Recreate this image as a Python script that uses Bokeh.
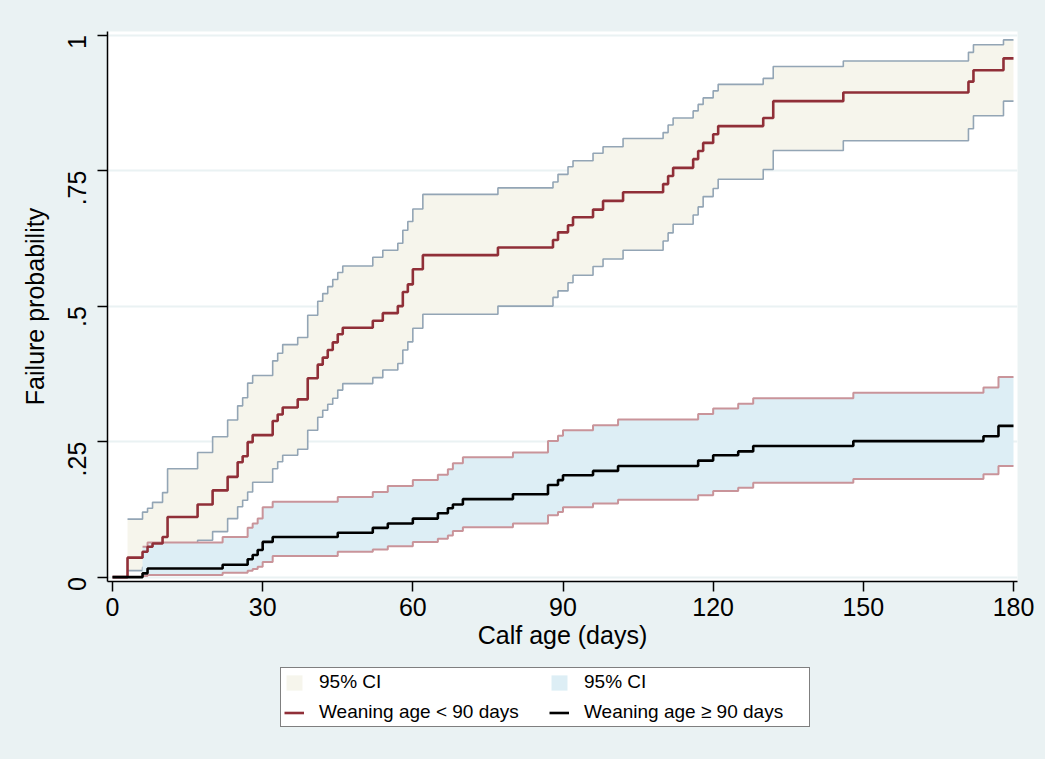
import math
from bokeh.plotting import figure
from bokeh.layouts import column
from bokeh.models import Range1d, FixedTicker, Legend, LegendItem
from bokeh.embed import file_html
from bokeh.resources import INLINE

# ---------------- data ----------------
# Group: weaning age < 90 days
days_lt90 = [0, 3, 6, 7, 8, 10, 11, 17, 20, 23, 25, 26, 27, 28, 32, 33, 34, 37, 39, 41,
             42, 43, 44, 45, 46, 52, 54, 57, 58, 59, 60, 62, 77, 88, 89, 91, 92, 96, 98,
             102, 110, 111, 112, 116, 117, 118, 120, 121, 130, 132, 146, 171, 172, 178, 180]
fail_lt90 = [0, .036, .047, .056, .062, .074, .111, .134, .160, .185, .212, .223, .249, .262,
             .288, .300, .313, .328, .367, .392, .405, .419, .433, .448, .460, .473, .487,
             .500, .526, .540, .568, .594, .608, .622, .636, .649, .664, .678, .694, .710,
             .725, .740, .755, .771, .786, .801, .817, .832, .847, .878, .894, .914, .935,
             .957, .957]
# CI defined from the first failure (day 3) on
ci_days_lt90 = days_lt90[1:]
hi_lt90 = [.107, .120, .127, .138, .156, .200, .230, .259, .290, .316, .331, .358, .372,
           .399, .413, .429, .442, .483, .509, .523, .536, .549, .562, .574, .590, .603,
           .616, .640, .656, .679, .706, .718, .729, .743, .757, .768, .782, .794, .809,
           .820, .834, .847, .860, .872, .884, .897, .909, .920, .942, .952, .968, .982,
           .991, .991]
lo_lt90 = [.012, .018, .024, .030, .038, .052, .068, .084, .108, .130, .142, .157, .175,
           .200, .213, .225, .236, .271, .295, .308, .319, .330, .345, .357, .368, .382,
           .394, .419, .434, .459, .485, .500, .516, .528, .543, .557, .573, .587, .603,
           .620, .635, .651, .668, .683, .702, .717, .734, .752, .787, .805, .827, .851,
           .878, .878]

# Group: weaning age >= 90 days
days_ge90 = [0, 6, 7, 22, 27, 28, 29, 30, 32, 45, 52, 55, 60, 65, 67, 68, 70, 80, 87, 89,
             90, 96, 101, 117, 120, 125, 128, 148, 174, 177, 180]
fail_ge90 = [0, .007, .016, .023, .033, .041, .050, .065, .074, .082, .091, .099, .108,
             .118, .127, .134, .144, .153, .170, .179, .188, .196, .205, .215, .225, .232,
             .242, .251, .260, .279, .279]
ci_days_ge90 = days_ge90[1:]
hi_ge90 = [.056, .064, .074, .091, .099, .108, .129, .139, .148, .157, .168, .179, .189,
           .199, .210, .221, .230, .251, .261, .271, .280, .291, .301, .311, .320, .330,
           .340, .350, .369, .369]
lo_ge90 = [.002, .004, .008, .012, .015, .019, .028, .039, .047, .051, .057, .065, .071,
           .077, .085, .092, .099, .114, .120, .129, .136, .143, .151, .159, .165, .174,
           .181, .190, .205, .205]

x_ticks = [0, 30, 60, 90, 120, 150, 180]
y_ticks = [0, 0.25, 0.5, 0.75, 1]
y_tick_labels = {0: "0", 0.25: ".25", 0.5: ".5", 0.75: ".75", 1: "1"}
legend_labels = ["95% CI", "Weaning age < 90 days", "95% CI", "Weaning age \u2265 90 days"]

# ---------------- styling ----------------
BG = "#EAF2F3"
FONT = "Liberation Sans"
BEIGE = "#F6F5EC"
LIGHTBLUE = "#DDEEF5"
GRAYBLUE = "#93A5B5"
PINK = "#C9949A"
CRANBERRY = "#902F38"


def draw_series(fig):
    """Draw CI areas, CI bounds and failure curves; return legend renderers."""
    a1 = fig.varea_step(x=ci_days_lt90, y1=lo_lt90, y2=hi_lt90, step_mode="after",
                        fill_color=BEIGE)
    fig.step(ci_days_lt90, hi_lt90, mode="after", line_color=GRAYBLUE, line_width=1.6)
    fig.step(ci_days_lt90, lo_lt90, mode="after", line_color=GRAYBLUE, line_width=1.6)
    a2 = fig.varea_step(x=ci_days_ge90, y1=lo_ge90, y2=hi_ge90, step_mode="after",
                        fill_color=LIGHTBLUE)
    fig.step(ci_days_ge90, hi_ge90, mode="after", line_color=PINK, line_width=2)
    fig.step(ci_days_ge90, lo_ge90, mode="after", line_color=PINK, line_width=2)
    c1 = fig.step(days_lt90, fail_lt90, mode="after", line_color=CRANBERRY, line_width=2.6)
    c2 = fig.step(days_ge90, fail_ge90, mode="after", line_color="black", line_width=2.6)
    return a1, c1, a2, c2


p = figure(width=1045, height=660, output_backend="svg", toolbar_location=None,
           x_range=Range1d(-1.0, 180.8), y_range=Range1d(-0.008, 1.0065),
           background_fill_color="white", border_fill_color=BG,
           min_border_left=107, min_border_right=28, min_border_top=31,
           min_border_bottom=79)
p.outline_line_color = None

# grid
p.xgrid.visible = False
p.ygrid.ticker = FixedTicker(ticks=y_ticks)
p.ygrid.grid_line_color = BG
p.ygrid.grid_line_width = 2

# axes
p.xaxis.ticker = FixedTicker(ticks=x_ticks)
p.yaxis.ticker = FixedTicker(ticks=y_ticks)
p.yaxis.major_label_overrides = y_tick_labels
p.yaxis.major_label_orientation = math.pi / 2
for ax in (p.xaxis[0], p.yaxis[0]):
    ax.axis_line_color = "black"
    ax.axis_line_width = 1.5
    ax.major_tick_line_color = "black"
    ax.major_tick_line_width = 1.5
    ax.major_tick_out = 10
    ax.major_tick_in = 0
    ax.minor_tick_line_color = None
    ax.major_label_text_font = FONT
    ax.major_label_text_font_size = "25px"
    ax.major_label_text_color = "black"
    ax.axis_label_text_font = FONT
    ax.axis_label_text_font_size = "25px"
    ax.axis_label_text_font_style = "normal"
    ax.axis_label_text_color = "black"
p.xaxis.axis_label = "Calf age (days)"
p.yaxis.axis_label = "Failure probability"
p.xaxis.major_label_standoff = 6
p.xaxis.axis_label_standoff = 2
p.yaxis.major_label_standoff = 20
p.yaxis.axis_label_standoff = 8

draw_series(p)

# ---------------- legend strip below the plot ----------------
# The same series are drawn here, but the strip's ranges lie outside the data,
# so only the legend keys show.
lf = figure(width=1045, height=99, output_backend="svg", toolbar_location=None,
            x_range=Range1d(-300, -200), y_range=Range1d(-300, -200),
            background_fill_color=BG, border_fill_color=BG,
            min_border=0, x_axis_type=None, y_axis_type=None)
lf.outline_line_color = None
lf.grid.visible = False
k1, k2, k3, k4 = draw_series(lf)

legend = Legend(items=[
    LegendItem(label=legend_labels[0], renderers=[k1]),
    LegendItem(label=legend_labels[1], renderers=[k2]),
    LegendItem(label=legend_labels[2], renderers=[k3]),
    LegendItem(label=legend_labels[3], renderers=[k4]),
], ncols=2)
legend.location = (173, 32)
legend.label_text_font = FONT
legend.label_text_font_size = "19px"
legend.label_text_color = "black"
legend.label_standoff = 15
legend.label_height = 22
legend.label_width = 222
legend.glyph_width = 20
legend.glyph_height = 19
legend.spacing = 8
legend.padding = 3
legend.margin = 0
legend.border_line_color = "black"
legend.border_line_width = 1
legend.background_fill_color = "white"
legend.background_fill_alpha = 1
lf.add_layout(legend, "center")

layout = column(p, lf, spacing=0, styles={"background-color": BG})
open("out.html", "w").write(file_html(layout, INLINE))
